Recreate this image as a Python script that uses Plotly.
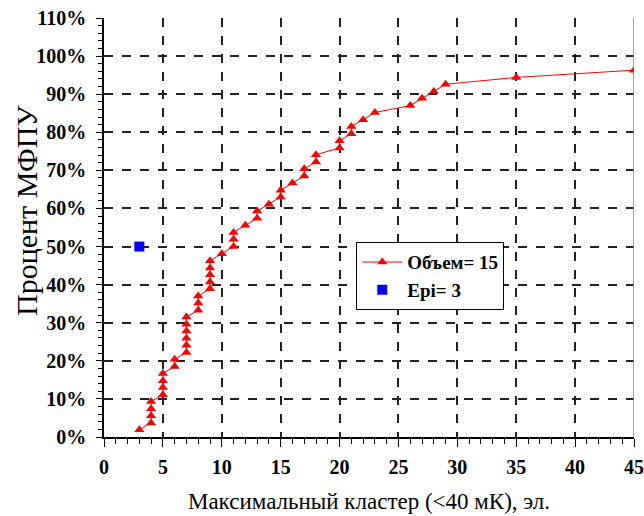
import plotly.graph_objects as go

# Data
volume_x = [3, 4, 4, 4, 4, 5, 5, 5, 5, 6, 6, 7, 7, 7, 7, 7, 7, 8, 8, 8,
            9, 9, 9, 9, 9, 10, 11, 11, 11, 12, 13, 13, 14, 15, 15, 16, 17, 17,
            18, 18, 20, 20, 21, 21, 22, 23, 26, 27, 28, 29, 35, 45]
volume_y = [1.9, 3.7, 5.6, 7.4, 9.3, 11.1, 13.0, 14.8, 16.7, 18.5, 20.4, 22.2, 24.1,
            25.9, 27.8, 29.6, 31.5, 33.3, 35.2, 37.0, 38.9, 40.7, 42.6, 44.4, 46.3,
            48.1, 50.0, 51.9, 53.7, 55.6, 57.4, 59.3, 61.1, 63.0, 64.8, 66.7, 68.5,
            70.4, 72.2, 74.1, 75.9, 77.8, 79.6, 81.5, 83.3, 85.2, 87.0, 88.9, 90.7,
            92.6, 94.4, 96.3]
epi_x = [3]
epi_y = [50]
x_ticks = [0, 5, 10, 15, 20, 25, 30, 35, 40, 45]
y_ticks = [0, 10, 20, 30, 40, 50, 60, 70, 80, 90, 100, 110]

serif = "Times New Roman, Liberation Serif, DejaVu Serif, serif"

fig = go.Figure()
fig.add_trace(go.Scatter(
    x=volume_x, y=volume_y, mode="lines+markers", name="<b>Объем= 15</b>",
    line=dict(color="#FF0000", width=1),
    marker=dict(symbol="triangle-up", size=9, color="#FF0000"),
))
fig.add_trace(go.Scatter(
    x=epi_x, y=epi_y, mode="markers", name="<b>Epi= 3</b>",
    marker=dict(symbol="square", size=10, color="#0000FF"),
))

fig.add_shape(type="line", xref="x", yref="paper", x0=45, x1=45, y0=0, y1=1,
              line=dict(color="#808080", width=1.5))

fig.add_annotation(
    text="Процент МФПУ", textangle=-90, showarrow=False,
    xref="paper", yref="paper", x=-0.1453, y=0.5418,
    xanchor="center", yanchor="middle",
    font=dict(family=serif, size=30, color="black"),
)

fig.update_layout(
    width=644, height=516,
    margin=dict(l=104, r=10, t=18, b=79),
    paper_bgcolor="white", plot_bgcolor="white",
    font=dict(family=serif, color="black"),
    showlegend=True,
    legend=dict(
        x=0.476, y=0.465, xanchor="left", yanchor="top",
        bgcolor="white", bordercolor="black", borderwidth=1,
        font=dict(family=serif, size=19, color="black"),
        itemwidth=40, tracegroupgap=6,
    ),
    xaxis=dict(
        range=[0, 45], tickvals=x_ticks, ticktext=[f"<b>{v}</b>" for v in x_ticks],
        automargin=False,
        showgrid=True, gridcolor="#222222", griddash="dash", gridwidth=1.5,
        showline=True, linecolor="black", linewidth=1.5,
        ticks="outside", ticklen=8, tickcolor="black",
        ticklabelstandoff=3,
        minor=dict(dtick=1, ticks="outside", ticklen=5, tickcolor="black", showgrid=False),
        tickfont=dict(family=serif, size=20, color="black"),
        title=dict(text="Максимальный кластер (<40 мК), эл.",
                   font=dict(family=serif, size=23, color="black"), standoff=16),
        zeroline=False,
    ),
    yaxis=dict(
        range=[0, 110], tickvals=y_ticks, ticktext=[f"<b>{v}%</b>" for v in y_ticks],
        automargin=False,
        showgrid=True, gridcolor="#222222", griddash="dash", gridwidth=1.5,
        showline=True, linecolor="black", linewidth=1.5,
        ticks="outside", ticklen=6, tickcolor="black",
        ticklabelstandoff=6,
        minor=dict(dtick=2, ticks="outside", ticklen=4, tickcolor="black", showgrid=False),
        tickfont=dict(family=serif, size=20, color="black"),
        zeroline=False,
    ),
)

fig.write_html("out.html")
